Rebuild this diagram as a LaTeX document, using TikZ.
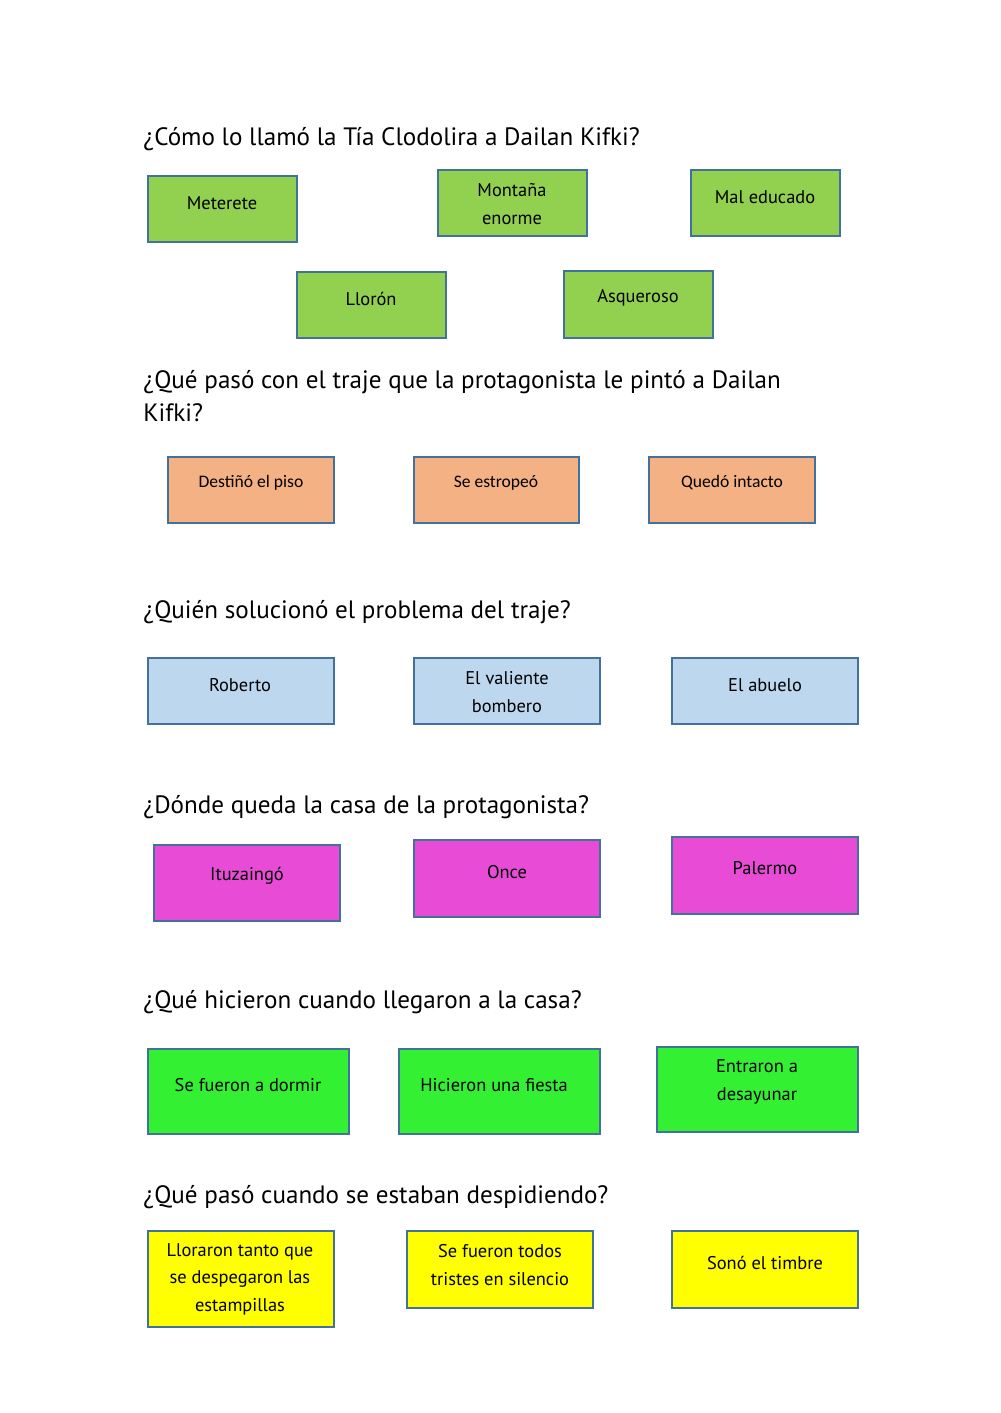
\documentclass[tikz,border=0pt]{standalone}
\usepackage{fontspec}
\setmainfont{PT Sans}
\newfontfamily\calibri{Carlito}
\definecolor{rim}{HTML}{41719C}
\definecolor{leaf}{HTML}{92D050}
\definecolor{peach}{HTML}{F4B183}
\definecolor{sky}{HTML}{BDD7EE}
\definecolor{pink}{HTML}{E84BD6}
\definecolor{lime}{HTML}{33F033}
\definecolor{sun}{HTML}{FFFF00}
\tikzset{
  box/.style={draw=rim, line width=1pt, inner sep=0pt},
  ask/.style={anchor=base west, font=\fontsize{15}{24}\selectfont, inner sep=0pt},
  word/.style={font=\fontsize{11}{16.5}\selectfont, align=center, inner sep=0pt}
}
% caja: nombre, color, esquina sup. izq., esquina inf. der.
\newcommand{\caja}[4]{\path[box, fill=#2] #3 rectangle #4 coordinate (#1);}
\begin{document}
\begin{tikzpicture}[x=0.21mm, y=-0.21mm]
  \useasboundingbox (0,0) rectangle (1000,1413);

  % pregunta 1
  \node[ask] (q1) at (143,145) {¿Cómo lo llamó la Tía Clodolira a Dailan Kifki?};
  \caja{a1}{leaf}{(148,176)}{(297,242)}
  \caja{a2}{leaf}{(438,170)}{(587,236)}
  \caja{a3}{leaf}{(691,170)}{(840,236)}
  \caja{a4}{leaf}{(297,272)}{(446,338)}
  \caja{a5}{leaf}{(564,271)}{(713,338)}
  \node[word] (t1) at (222,203) {Meterete};
  \node[word] (t2) at (512,204) {Montaña\\enorme};
  \node[word] (t3) at (765,197) {Mal educado};
  \node[word] (t4) at (371,299) {Llorón};
  \node[word] (t5) at (638,298) {Asqueroso};

  % pregunta 2
  \node[ask] (q2) at (143,388) {¿Qué pasó con el traje que la protagonista le pintó a Dailan};
  \node[ask] (q2b) at (143,421) {Kifki?};
  \caja{b1}{peach}{(168,457)}{(334,523)}
  \caja{b2}{peach}{(414,457)}{(579,523)}
  \caja{b3}{peach}{(649,457)}{(815,523)}
  \node[word, font=\calibri\fontsize{10.5}{13}\selectfont] (u1) at (251,483) {Destiñó el piso};
  \node[word, font=\calibri\fontsize{10.5}{13}\selectfont] (u2) at (496,483) {Se estropeó};
  \node[word, font=\calibri\fontsize{10.5}{13}\selectfont] (u3) at (732,483) {Quedó intacto};

  % pregunta 3
  \node[ask] (q3) at (143,618) {¿Quién solucionó el problema del traje?};
  \caja{c1}{sky}{(148,658)}{(334,724)}
  \caja{c2}{sky}{(414,658)}{(600,724)}
  \caja{c3}{sky}{(672,658)}{(858,724)}
  \node[word] (v1) at (240,685) {Roberto};
  \node[word] (v2) at (507,692) {El valiente\\bombero};
  \node[word] (v3) at (765,685) {El abuelo};

  % pregunta 4
  \node[ask] (q4) at (143,813) {¿Dónde queda la casa de la protagonista?};
  \caja{d1}{pink}{(154,845)}{(340,921)}
  \caja{d2}{pink}{(414,840)}{(600,917)}
  \caja{d3}{pink}{(672,837)}{(858,914)}
  \node[word] (w1) at (247,876) {Ituzaingó};
  \node[word] (w2) at (507,872) {Once};
  \node[word] (w3) at (765,868) {Palermo};

  % pregunta 5
  \node[ask] (q5) at (143,1008) {¿Qué hicieron cuando llegaron a la casa?};
  \caja{e1}{lime}{(148,1049)}{(349,1134)}
  \caja{e2}{lime}{(399,1049)}{(600,1134)}
  \caja{e3}{lime}{(657,1047)}{(858,1132)}
  \node[word] (x1) at (248,1085) {Se fueron a dormir};
  \node[word] (x2) at (494,1085) {Hicieron una fiesta};
  \node[word] (x3) at (757,1082) {Entraron a\\desayunar};

  % pregunta 6
  \node[ask] (q6) at (143,1203) {¿Qué pasó cuando se estaban despidiendo?};
  \caja{f1}{sun}{(148,1231)}{(334,1327)}
  \caja{f2}{sun}{(407,1231)}{(593,1308)}
  \caja{f3}{sun}{(672,1231)}{(858,1308)}
  \node[word] (y1) at (240,1279) {Lloraron tanto que\\se despegaron las\\estampillas};
  \node[word] (y2) at (500,1265) {Se fueron todos\\tristes en silencio};
  \node[word] (y3) at (765,1263) {Sonó el timbre};
\end{tikzpicture}
\end{document}
